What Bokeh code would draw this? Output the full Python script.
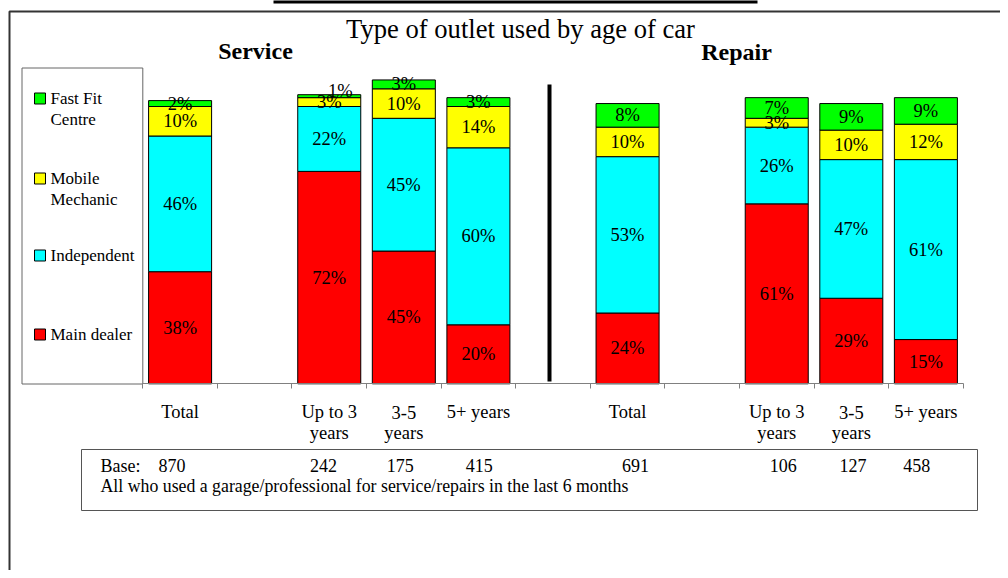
from bokeh.plotting import figure
from bokeh.models import ColumnDataSource, Range1d, LinearAxis, FixedTicker
from bokeh.core.properties import value
from bokeh.embed import file_html
from bokeh.resources import INLINE

# ---------------- data ----------------
title = "Type of outlet used by age of car"
panels = ["Service", "Repair"]
categories = ["Total", "Up to 3\nyears", "3-5\nyears", "5+ years",
              "Total", "Up to 3\nyears", "3-5\nyears", "5+ years"]
series = ["Main dealer", "Independent", "Mobile\nMechanic", "Fast Fit\nCentre"]
main_dealer = [38, 72, 45, 20, 24, 61, 29, 15]
independent = [46, 22, 45, 60, 53, 26, 47, 61]
mobile_mechanic = [10, 3, 10, 14, 10, 3, 10, 12]
fast_fit = [2, 1, 3, 3, 8, 7, 9, 9]
base_n = [870, 242, 175, 415, 691, 106, 127, 458]
base_label = "Base:"
base_note = "All who used a garage/professional for service/repairs in the last 6 months"

# ---------------- layout / style ----------------
colors = ["#FF0000", "#00FFFF", "#FFFF00", "#00FF00"]
slots = [0, 2, 3, 4, 6, 8, 9, 10]          # slot index of each bar (gaps between groups)
base_tabs_px = [171.5, 323, 399.7, 478.8, 635, 782.8, 852.5, 916.3]
FONT = value("Liberation Serif")
W, H = 1000, 570
SLOT0_PX, SLOT_W = 142.3, 74.58            # px of slot 0 edge, px per slot
BASE_PX, UNIT_PX = 383.3, 2.95             # px of 0 %, px per %


def dx(px):
    return (px - SLOT0_PX) / SLOT_W


def dy(py):
    return (BASE_PX - py) / UNIT_PX


p = figure(width=W, height=H,
           x_range=Range1d(dx(0), dx(W)), y_range=Range1d(dy(H), dy(0)),
           x_axis_type=None, y_axis_type=None, toolbar_location=None,
           output_backend="svg", min_border=0)
p.outline_line_color = None
p.background_fill_color = "white"
p.border_fill_color = "white"

# clipped header bar and outer slide frame
p.quad(left=[dx(273)], right=[dx(757)], top=[dy(-5)], bottom=[dy(3)],
       fill_color="black", line_color=None)
p.quad(left=[dx(9)], right=[dx(1200)], top=[dy(11)], bottom=[dy(900)],
       fill_color=None, line_color="#333333", line_width=2)

# titles
p.text(x=[dx(520)], y=[dy(28.5)], text=[title], text_align="center",
       text_baseline="middle", text_font=FONT, text_font_size="26.6px", text_color="black")
p.text(x=[dx(255), dx(736)], y=[dy(50.5), dy(51.5)], text=panels, text_align="center",
       text_baseline="middle", text_font=FONT, text_font_size="24px",
       text_font_style="bold", text_color="black")

# stacked bars
xs = [s + 0.5 for s in slots]
keys = ["md", "ind", "mob", "ff"]
src = ColumnDataSource(dict(x=xs, md=main_dealer, ind=independent,
                            mob=mobile_mechanic, ff=fast_fit))
p.vbar_stack(keys, x="x", width=0.845, color=colors, line_color="black",
             line_width=1, source=src)

# segment labels
lx, ly, lt, ox, oy = [], [], [], [], []
for i, x in enumerate(xs):
    cum = 0
    for vals in (main_dealer, independent, mobile_mechanic, fast_fit):
        v = vals[i]
        lx.append(x)
        ly.append(cum + v / 2)
        lt.append(f"{v}%")
        ox.append(11 if v <= 1 else 0)
        oy.append(-5 if v <= 1 else 0)
        cum += v
p.text(x=lx, y=ly, text=lt, x_offset=ox, y_offset=oy, text_align="center",
       text_baseline="middle", text_font=FONT, text_font_size="18.5px", text_color="black")

# divider between Service and Repair
p.segment(x0=[dx(549)], y0=[dy(84)], x1=[dx(549)], y1=[dy(381)],
          line_color="black", line_width=4)

# x axis (category axis line with ticks between slots)
ax = LinearAxis(fixed_location=0, ticker=FixedTicker(ticks=list(range(12))),
                bounds=(0, 11), major_tick_in=0, major_tick_out=5,
                minor_tick_line_color=None,
                major_label_overrides={i: "" for i in range(12)},
                axis_line_color="#808080", major_tick_line_color="#808080")
p.add_layout(ax, "below")

# category labels
cx, cy, ct = [], [], []
for x, c in zip(xs, categories):
    for k, line in enumerate(c.split("\n")):
        cx.append(x)
        cy.append(dy(411.5 + 21 * k))
        ct.append(line)
p.text(x=cx, y=cy, text=ct, text_align="center", text_baseline="middle",
       text_font=FONT, text_font_size="18.5px", text_color="black")

# legend box
p.quad(left=[dx(21.5)], right=[dx(142.3)], top=[dy(67.5)], bottom=[dy(383.5)],
       fill_color="white", line_color="#666666", line_width=1)
leg_rows = [98, 178, 255, 334]
leg_names = series[::-1]
leg_cols = colors[::-1]
p.rect(x=[dx(39.5)] * 4, y=[dy(r) for r in leg_rows], width=11, height=11,
       width_units="screen", height_units="screen", fill_color=leg_cols,
       line_color="black", line_width=1)
tx, ty, tt = [], [], []
for r, name in zip(leg_rows, leg_names):
    for k, line in enumerate(name.split("\n")):
        tx.append(dx(50))
        ty.append(dy(r + 21 * k))
        tt.append(line)
p.text(x=tx, y=ty, text=tt, text_align="left", text_baseline="middle",
       text_font=FONT, text_font_size="17px", text_color="black")

# base box
p.quad(left=[dx(81)], right=[dx(977)], top=[dy(449)], bottom=[dy(510)],
       fill_color=None, line_color="#555555", line_width=1)
p.text(x=[dx(100)], y=[dy(465)], text=[base_label], text_align="left",
       text_baseline="middle", text_font=FONT, text_font_size="18px", text_color="black")
p.text(x=[dx(t) for t in base_tabs_px], y=[dy(465)] * len(base_n),
       text=[str(b) for b in base_n], text_align="center",
       text_baseline="middle", text_font=FONT, text_font_size="18px", text_color="black")
p.text(x=[dx(100)], y=[dy(485.5)], text=[base_note], text_align="left",
       text_baseline="middle", text_font=FONT, text_font_size="17.8px", text_color="black")

open("out.html", "w").write(file_html(p, INLINE))
